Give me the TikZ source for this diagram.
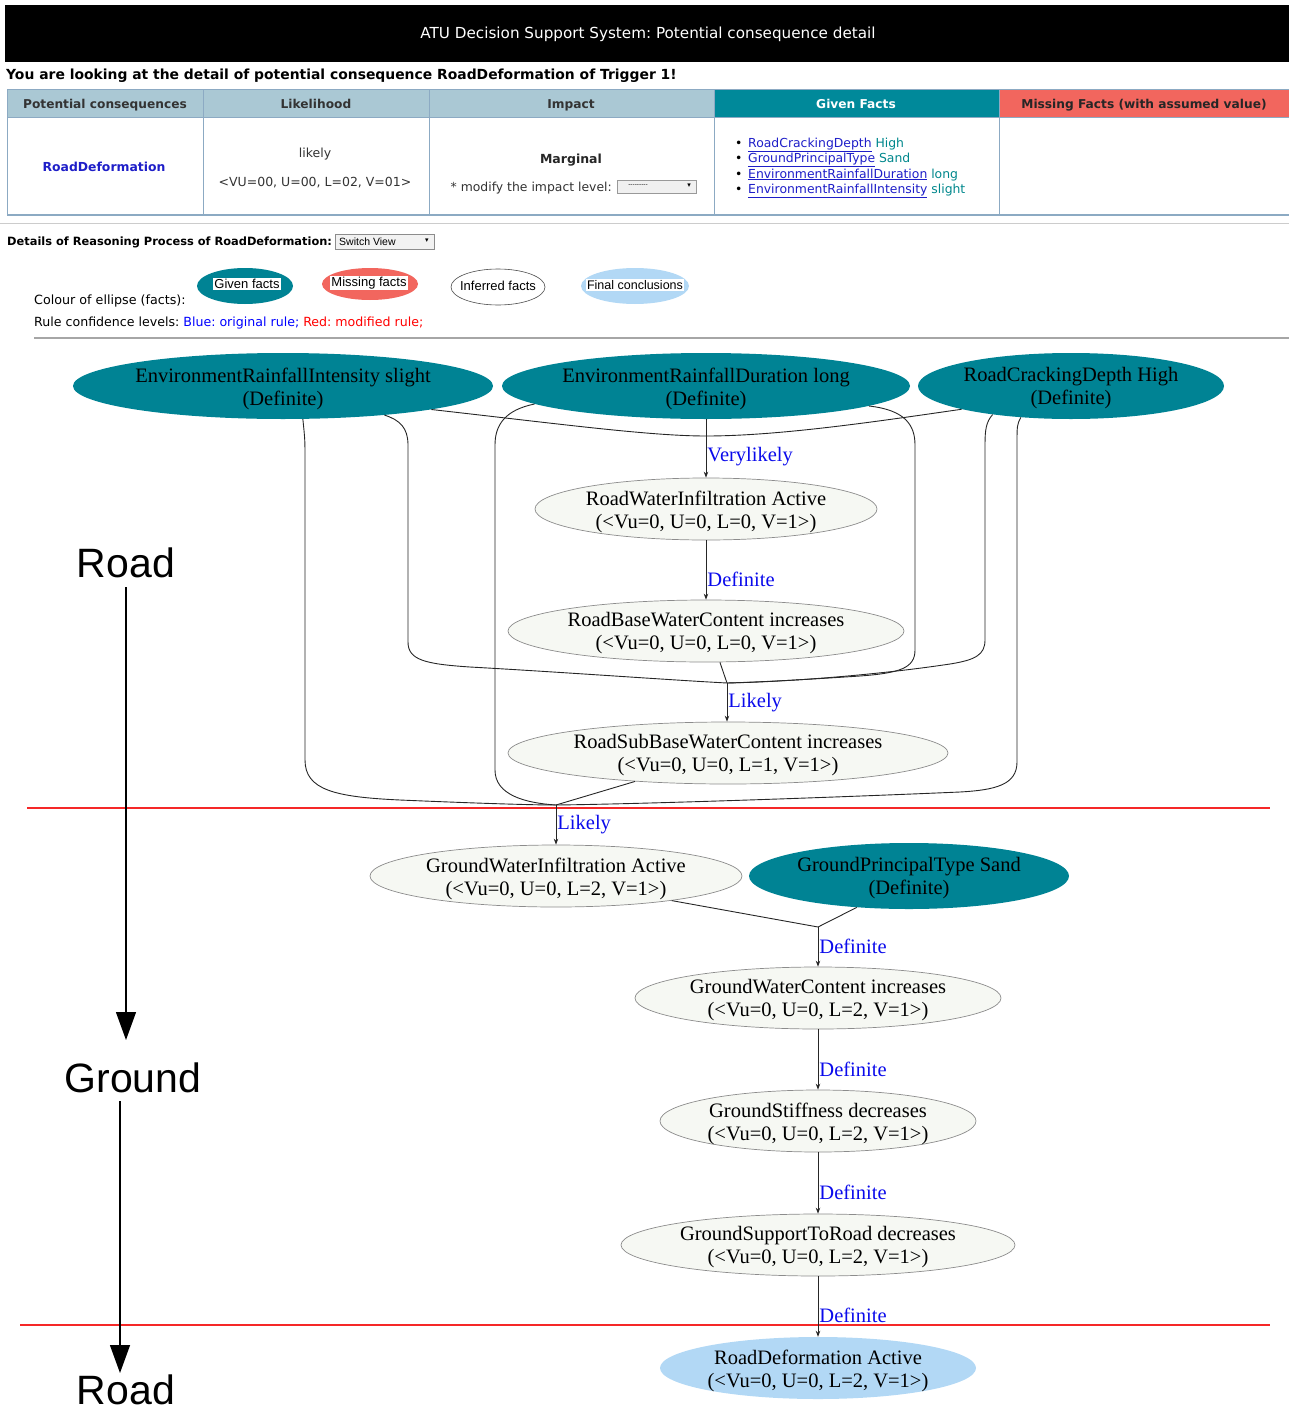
\documentclass[tikz,border=0pt]{standalone}
\usepackage{fontspec}
\setmainfont{Liberation Serif}
\newfontfamily\ui{DejaVu Sans}
\newfontfamily\ar{Liberation Sans}
\usetikzlibrary{shapes.geometric,arrows.meta}
\newcommand\myfs[1]{\fontsize{#1}{#1}\selectfont}
\definecolor{tealc}{RGB}{0,131,148}
\definecolor{tealh}{RGB}{0,137,154}
\definecolor{salmonc}{RGB}{242,102,94}
\definecolor{hdrc}{RGB}{170,200,212}
\definecolor{gridc}{RGB}{140,170,195}
\definecolor{finalc}{RGB}{178,216,245}
\definecolor{infc}{RGB}{246,248,243}
\definecolor{labc}{RGB}{10,10,235}
\definecolor{linkc}{RGB}{30,30,200}
\definecolor{valc}{RGB}{0,135,140}
\definecolor{redc}{RGB}{245,40,40}
\tikzset{
  gfont/.style={font=\fontsize{20.5}{23}\selectfont},
  gtext/.style={gfont,align=center,inner sep=0,yshift=-2.5pt},
  ell/.style={ellipse,inner sep=0},
  given/.style={ell,fill=tealc},
  inferred/.style={ell,fill=infc,draw=black!45,line width=0.7pt},
  final/.style={ell,fill=finalc},
  edge/.style={draw=black!85,line width=0.9pt},
  arr/.style={edge,-{Stealth[length=6pt,width=4.5pt]}},
  rlabel/.style={anchor=west,text=labc,gfont,inner sep=1pt},
  redline/.style={draw=redc,line width=1.1pt},
  bigarr/.style={line width=1.3pt,-{Triangle[length=28pt,width=20pt]}},
  side/.style={font=\ar\myfs{41},inner sep=1pt},
  txt/.style={inner sep=0},
  grid/.style={draw=gridc,line width=1pt},
  lgt/.style={fill=white,inner sep=1pt,font=\ar\myfs{13}},
}
\begin{document}
\frenchspacing
\begin{tikzpicture}[x=1pt,y=-1pt]
\useasboundingbox (0,0) rectangle (1289,1413);
% ---------- header ----------
\fill[black] (5,5) rectangle (1289,62);
\node[txt,text=white,font=\ui\myfs{15.2}] (title) at (648,34) {ATU Decision Support System: Potential consequence detail};
\node[txt,anchor=base west,font=\ui\bfseries\myfs{13.9}] (intro) at (6,79) {You are looking at the detail of potential consequence RoadDeformation of Trigger 1!};
% ---------- table ----------
\fill[hdrc] (7,89) rectangle (714,117);
\fill[tealh] (714,89) rectangle (999,117);
\fill[salmonc] (999,89) rectangle (1289,117);
\draw[grid] (7,89) -- (1289,89);
\draw[grid] (7,117) -- (1289,117);
\draw[grid,line width=2pt] (7,215) -- (1289,215);
\foreach \xx in {7,203,429,714,999} {\draw[grid] (\xx,89) -- (\xx,215);}
\draw[draw=black!20,line width=1pt] (0,223) -- (1289,223);
\begin{scope}[every node/.style={txt,anchor=base,font=\ui\bfseries\myfs{12.2}}]
\node[text=black!80] (h1) at (105,108) {Potential consequences};
\node[text=black!80] (h2) at (316,108) {Likelihood};
\node[text=black!80] (h3) at (571,108) {Impact};
\node[text=white] (h4) at (856,108) {Given Facts};
\node[text=black!85] (h5) at (1144,108) {Missing Facts (with assumed value)};
\end{scope}
\node[txt,anchor=base,font=\ui\bfseries\myfs{12.4},text=linkc] (rdef) at (104,171) {RoadDeformation};
\node[txt,anchor=base,font=\ui\myfs{12.5},text=black!80] (lik) at (315,157) {likely};
\node[txt,anchor=base,font=\ui\myfs{12.5},text=black!80] (likv) at (315,186) {<VU=00, U=00, L=02, V=01>};
\node[txt,anchor=base,font=\ui\bfseries\myfs{12.5},text=black!85] (marg) at (571,163) {Marginal};
\node[txt,anchor=base east,font=\ui\myfs{12.4},text=black!80] (modi) at (612,191) {* modify the impact level:};
\draw[draw=black!40,fill=black!6] (617,180) rectangle (696,193);
\node[txt,font=\ui\myfs{6}] (dd1) at (638,186) {---------};
\node[txt,font=\ui\myfs{7}] (dd1a) at (689,186) {▾};
\begin{scope}[every node/.style={txt,anchor=base west,font=\ui\myfs{12.4}}]
\node (b1) at (735,147) {•};
\node (f1) at (748,147) {\textcolor{linkc}{\underline{RoadCrackingDepth}} \textcolor{valc}{High}};
\node (b2) at (735,162) {•};
\node (f2) at (748,162) {\textcolor{linkc}{\underline{GroundPrincipalType}} \textcolor{valc}{Sand}};
\node (b3) at (735,178) {•};
\node (f3) at (748,178) {\textcolor{linkc}{\underline{EnvironmentRainfallDuration}} \textcolor{valc}{long}};
\node (b4) at (735,193) {•};
\node (f4) at (748,193) {\textcolor{linkc}{\underline{EnvironmentRainfallIntensity}} \textcolor{valc}{slight}};
\end{scope}
% ---------- details / legend ----------
\node[txt,anchor=base west,font=\ui\bfseries\myfs{11.4}] (det) at (7,245) {Details of Reasoning Process of RoadDeformation:};
\draw[draw=black!45,fill=black!5] (335,234) rectangle (434,249);
\node[txt,anchor=base west,font=\ar\myfs{10.5}] (sv) at (339,245) {Switch View};
\node[txt,font=\ui\myfs{7}] (sva) at (427,241) {▾};
\node[txt,anchor=base west,font=\ui\myfs{12.7}] (col) at (34,304) {Colour of ellipse (facts):};
\node[ell,fill=tealc,minimum width=96,minimum height=36] (lg1) at (245,286) {};
\node[lgt] (lg1t) at (247,284) {Given facts};
\node[ell,fill=salmonc,minimum width=96,minimum height=32] (lg2) at (370,284) {};
\node[lgt] (lg2t) at (369,283) {Missing facts};
\node[ell,fill=white,draw=black!70,line width=0.6pt,minimum width=94,minimum height=36] (lg3) at (498,287) {};
\node[lgt,fill=none] (lg3t) at (498,286) {Inferred facts};
\node[ell,fill=finalc,minimum width=108,minimum height=36] (lg4) at (635,286) {};
\node[lgt,font=\ar\myfs{12.5}] (lg4t) at (635,285) {Final conclusions};
\node[txt,anchor=base west,font=\ui\myfs{12.6}] (rcl) at (34,326) {Rule confidence levels: \textcolor{blue}{Blue: original rule;} \textcolor{red}{Red: modified rule;}};
\draw[draw=black!35,line width=1.6pt] (34,338) -- (1289,338);
% ---------- red layer lines ----------
\draw[redline] (27,808) -- (1270,808);
\draw[redline] (20,1325) -- (1270,1325);
% ---------- graph nodes ----------
\node[given,minimum width=420,minimum height=66] (eri) at (283,386) {};
\node[gtext] (erit) at (283,386) {EnvironmentRainfallIntensity slight\\(Definite)};
\node[given,minimum width=408,minimum height=66] (erd) at (706,386) {};
\node[gtext] (erdt) at (706,386) {EnvironmentRainfallDuration long\\(Definite)};
\node[given,minimum width=306,minimum height=66] (rcd) at (1071,386) {};
\node[gtext] (rcdt) at (1071,386) {RoadCrackingDepth High\\(Definite)};
\node[inferred,minimum width=342,minimum height=62] (rwi) at (706,509) {};
\node[gtext] (rwit) at (706,509) {RoadWaterInfiltration Active\\(<Vu=0, U=0, L=0, V=1>)};
\node[inferred,minimum width=396,minimum height=62] (rbwc) at (706,631) {};
\node[gtext] (rbwct) at (706,631) {RoadBaseWaterContent increases\\(<Vu=0, U=0, L=0, V=1>)};
\node[inferred,minimum width=440,minimum height=62] (rsbwc) at (728,753) {};
\node[gtext] (rsbwct) at (728,753) {RoadSubBaseWaterContent increases\\(<Vu=0, U=0, L=1, V=1>)};
\node[inferred,minimum width=372,minimum height=62] (gwi) at (556,876) {};
\node[gtext] (gwit) at (556,876) {GroundWaterInfiltration Active\\(<Vu=0, U=0, L=2, V=1>)};
\node[given,minimum width=320,minimum height=66] (gpt) at (909,876) {};
\node[gtext] (gptt) at (909,876) {GroundPrincipalType Sand\\(Definite)};
\node[inferred,minimum width=366,minimum height=62] (gwc) at (818,998) {};
\node[gtext] (gwct) at (818,998) {GroundWaterContent increases\\(<Vu=0, U=0, L=2, V=1>)};
\node[inferred,minimum width=316,minimum height=62] (gst) at (818,1121) {};
\node[gtext] (gstt) at (818,1121) {GroundStiffness decreases\\(<Vu=0, U=0, L=2, V=1>)};
\node[inferred,minimum width=394,minimum height=62] (gsr) at (818,1245) {};
\node[gtext] (gsrt) at (818,1245) {GroundSupportToRoad decreases\\(<Vu=0, U=0, L=2, V=1>)};
\node[final,minimum width=316,minimum height=62] (rda) at (818,1368) {};
\node[gtext] (rdat) at (818,1368) {RoadDeformation Active\\(<Vu=0, U=0, L=2, V=1>)};
% junctions
\coordinate (j1) at (706,436);
\coordinate (j2) at (727,683);
\coordinate (j3) at (556,805);
\coordinate (j4) at (818,927);
% ---------- rule 1 ----------
\draw[edge] (eri.-9) .. controls (560,424) and (650,436) .. (j1);
\draw[edge] (erd.south) -- (j1);
\draw[edge] (rcd.-168) .. controls (880,421) and (780,436) .. (j1);
\draw[arr] (j1) -- node[rlabel]{Verylikely} (j1 |- rwi.north);
% ---------- rule 2 ----------
\draw[arr] (rwi.south) -- node[rlabel,pos=.65]{Definite} (rbwc.north);
% ---------- rule 3 ----------
\draw[edge] (eri.-16) .. controls (400,420) and (408,428) .. (408,445) -- (408,642) .. controls (408,660) and (425,664) .. (470,667) .. controls (560,672) and (670,680) .. (j2);
\draw[edge] (erd.-7) .. controls (905,410) and (915,425) .. (915,445) -- (915,650) .. controls (915,668) and (900,673) .. (860,676) .. controls (800,680) and (760,682) .. (j2);
\draw[edge] (rcd.-160) .. controls (986,422) and (985,430) .. (985,445) -- (985,640) .. controls (985,655) and (975,660) .. (950,664) .. controls (870,676) and (780,682) .. (j2);
\draw[edge] (rbwc.-66) .. controls (724,672) .. (j2);
\draw[arr] (j2) -- node[rlabel]{Likely} (j2 |- rsbwc.north);
% ---------- rule 4 ----------
\draw[edge] (eri.-59) .. controls (305,440) .. (305,460) -- (305,760) .. controls (305,790) and (335,797) .. (400,800) .. controls (470,803) and (530,805) .. (j3);
\draw[edge] (erd.-174) .. controls (505,410) and (495,425) .. (495,445) -- (495,770) .. controls (495,795) and (525,803) .. (j3);
\draw[edge] (rcd.-148) .. controls (1017,425) .. (1017,445) -- (1017,762) .. controls (1017,785) and (995,790) .. (960,792) .. controls (820,798) and (640,804) .. (j3);
\draw[edge] (rsbwc.-163) -- (j3);
\draw[arr] (j3) -- node[rlabel]{Likely} (j3 |- gwi.north);
% ---------- rule 5 and chain ----------
\draw[edge] (gwi.-12) -- (j4);
\draw[edge] (gpt.-149) -- (j4);
\draw[arr] (j4) -- node[rlabel]{Definite} (j4 |- gwc.north);
\draw[arr] (gwc.south) -- node[rlabel,pos=.67]{Definite} (gst.north);
\draw[arr] (gst.south) -- node[rlabel,pos=.65]{Definite} (gsr.north);
\draw[arr] (gsr.south) -- node[rlabel,pos=.64]{Definite} (rda.north);
% ---------- layer annotation ----------
\node[side] (road1) at (126,563) {Road};
\node[side] (ground) at (133,1078) {Ground};
\node[side] (road2) at (126,1390) {Road};
\coordinate (a1s) at (126,587);
\coordinate (a1e) at (126,1040);
\coordinate (a2s) at (120,1101);
\coordinate (a2e) at (120,1373);
\draw[bigarr] (a1s) -- (a1e);
\draw[bigarr] (a2s) -- (a2e);
\end{tikzpicture}
\end{document}
